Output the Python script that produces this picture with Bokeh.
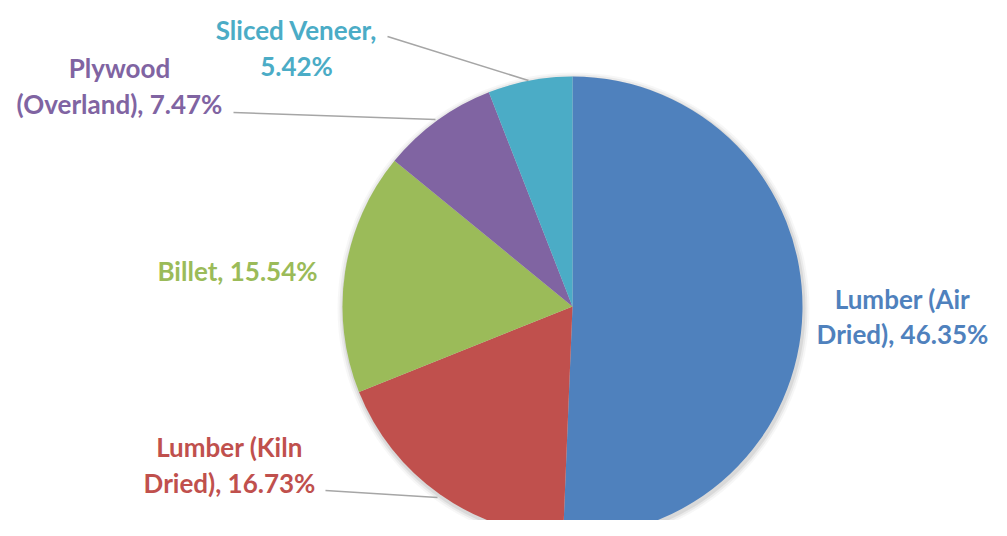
import math
from bokeh.plotting import figure
from bokeh.models import Range1d, ColumnDataSource
from bokeh.core.properties import value
from bokeh.embed import file_html
from bokeh.resources import INLINE

# ---- data ----
categories = ["Lumber (Air Dried)", "Lumber (Kiln Dried)", "Billet",
              "Plywood (Overland)", "Sliced Veneer"]
percent = [46.35, 16.73, 15.54, 7.47, 5.42]
colors = ["#4F81BD", "#C0504D", "#9BBB59", "#8064A2", "#4BACC6"]
label_lines = [["Lumber (Air", "Dried), 46.35%"],
               ["Lumber (Kiln", "Dried), 16.73%"],
               ["Billet, 15.54%"],
               ["Plywood", "(Overland), 7.47%"],
               ["Sliced Veneer,", "5.42%"]]

# ---- layout (screen px -> data: x = sx, y = 536 - sy) ----
W, H = 991, 520
def Y(sy):
    return 536 - sy

cx, cy, r = 572, Y(306), 230

total = sum(percent)
starts, ends = [], []
a = math.pi / 2
for v in percent:
    starts.append(a)
    a -= v / total * 2 * math.pi
    ends.append(a)

p = figure(width=W, height=H, output_backend="svg", toolbar_location=None,
           x_range=Range1d(0, W), y_range=Range1d(Y(H), Y(0)),
           min_border=0, outline_line_color=None)
p.axis.visible = False
p.grid.visible = False
p.background_fill_color = "white"
p.border_fill_color = "white"

# soft shadow
for k, al in [(6, 0.03), (4, 0.05), (2, 0.07)]:
    p.circle(x=[cx + 1], y=[cy - 2], radius=r + k, fill_color="#000000",
             fill_alpha=al, line_color=None)

src = ColumnDataSource(dict(start=starts, end=ends, color=colors, name=categories))
p.wedge(x=cx, y=cy, radius=r, start_angle="end", end_angle="start",
        fill_color="color", line_color=None, source=src)

# leader lines
p.segment(x0=[387, 233, 325], y0=[Y(36), Y(112), Y(490)],
          x1=[528, 435, 437], y1=[Y(80), Y(119), Y(497)],
          line_color="#A6A6A6", line_width=1.6)

# labels
label_pos = [(902, [298, 333]), (229, [446, 482]), (237, [270]),
             (119, [67, 103]), (296, [29, 65])]
xs, ys, ts, cs = [], [], [], []
for (lx, lys), lines, c in zip(label_pos, label_lines, colors):
    for ly, t in zip(lys, lines):
        xs.append(lx); ys.append(Y(ly)); ts.append(t); cs.append(c)
p.text(x=xs, y=ys, text=ts, text_color=cs, text_align="center",
       text_baseline="middle", text_font=value("Lato"),
       text_font_style="bold", text_font_size="26px")

open("out.html", "w").write(file_html(p, INLINE))
